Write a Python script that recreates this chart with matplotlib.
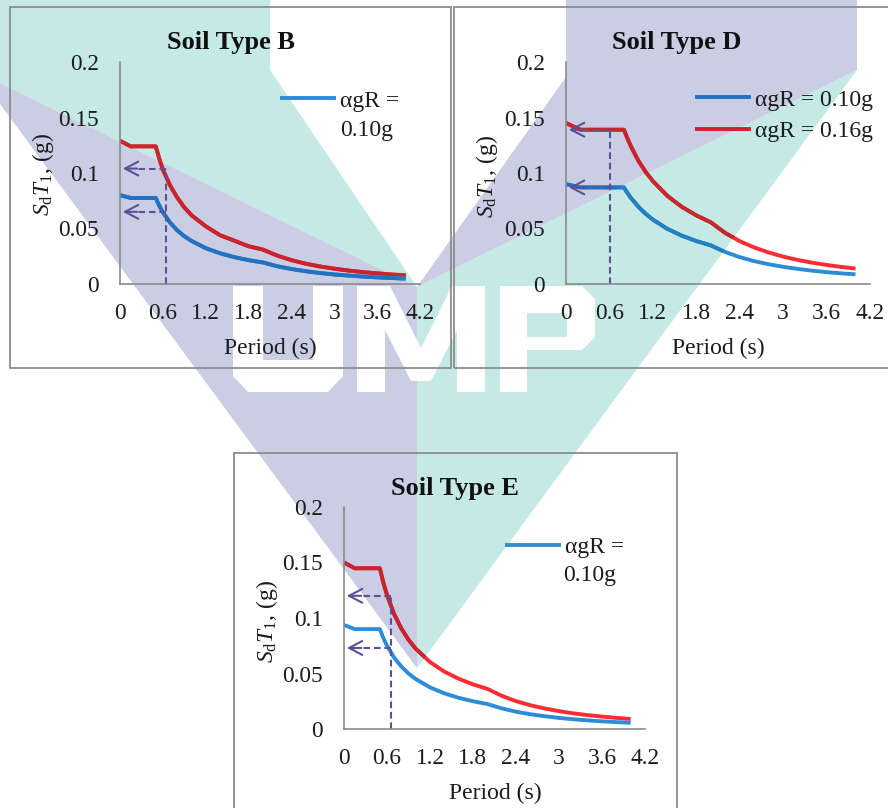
import matplotlib.pyplot as plt
import numpy as np
from matplotlib.path import Path
from matplotlib.patches import PathPatch, Rectangle
from matplotlib.lines import Line2D

W, H = 888, 808

plt.rcParams['font.family'] = ['Liberation Serif', 'DejaVu Serif']
plt.rcParams['mathtext.fontset'] = 'custom'
plt.rcParams['mathtext.rm'] = 'Liberation Serif'
plt.rcParams['mathtext.it'] = 'Liberation Serif:italic'
plt.rcParams['font.size'] = 16.5

# ---- data (period in s, Sd in g) ----
period_be = [0, 0.15, 0.5, 0.55, 0.6, 0.7, 0.8, 0.9, 1.0, 1.2, 1.4, 1.6, 1.8, 2.0,
             2.2, 2.4, 2.6, 2.8, 3.0, 3.2, 3.4, 3.6, 3.8, 4.0]
period_d = [0, 0.2, 0.8, 0.85, 0.9, 1.0, 1.1, 1.2, 1.4, 1.6, 1.8, 2.0,
            2.2, 2.4, 2.6, 2.8, 3.0, 3.2, 3.4, 3.6, 3.8, 4.0]

sd_b_010 = [0.080, 0.0775, 0.0775, 0.0705, 0.0646, 0.0554, 0.0484, 0.0431, 0.0388, 0.0323,
            0.0277, 0.0242, 0.0215, 0.0194, 0.0160, 0.0135, 0.0115, 0.0099, 0.0086, 0.0076,
            0.0067, 0.0060, 0.0054, 0.0048]
sd_b_016 = [0.129, 0.124, 0.124, 0.113, 0.103, 0.089, 0.078, 0.069, 0.062, 0.052,
            0.044, 0.039, 0.034, 0.031, 0.0256, 0.0215, 0.0183, 0.0158, 0.0138, 0.0121,
            0.0107, 0.0096, 0.0086, 0.0078]
sd_d_010 = [0.090, 0.087, 0.087, 0.0819, 0.0773, 0.0696, 0.0633, 0.058, 0.0497, 0.0435,
            0.0387, 0.0348, 0.0288, 0.0242, 0.0206, 0.0178, 0.0155, 0.0136, 0.012, 0.0107,
            0.0096, 0.0087]
sd_d_016 = [0.145, 0.139, 0.139, 0.131, 0.1236, 0.111, 0.101, 0.0927, 0.0794, 0.0695,
            0.0618, 0.0556, 0.046, 0.0386, 0.0329, 0.0284, 0.0247, 0.0217, 0.0192, 0.0172,
            0.0154, 0.0139]
sd_e_010 = [0.0937, 0.090, 0.090, 0.0818, 0.075, 0.0643, 0.0563, 0.050, 0.045, 0.0375,
            0.0321, 0.0281, 0.025, 0.0225, 0.0186, 0.0156, 0.0133, 0.0115, 0.010, 0.0088,
            0.0078, 0.0069, 0.0062, 0.0056]
sd_e_016 = [0.150, 0.1448, 0.1448, 0.1316, 0.1207, 0.1034, 0.0905, 0.0804, 0.0724, 0.0603,
            0.0517, 0.0453, 0.0402, 0.0362, 0.0299, 0.0251, 0.0214, 0.0185, 0.0161, 0.0141,
            0.0125, 0.0112, 0.010, 0.009]

# fundamental period and the Sd values read at it (dashed arrows)
t1_b, arrows_b = 0.65, [0.104, 0.065]
t1_d, arrows_d = 0.61, [0.139, 0.087]
t1_e, arrows_e = 0.655, [0.120, 0.073]

xticks = [0, 0.6, 1.2, 1.8, 2.4, 3, 3.6, 4.2]
xticklabels = ['0', '0.6', '1.2', '1.8', '2.4', '3', '3.6', '4.2']
yticks = [0, 0.05, 0.1, 0.15, 0.2]
yticklabels = ['0', '0.05', '0.1', '0.15', '0.2']

# ---- colours ----
blue = np.array([45, 140, 215]) / 255
red = np.array([252, 45, 50]) / 255
lav = np.array([201, 206, 228]) / 255
teal = np.array([197, 233, 229]) / 255
arrow_c = '#5b5196'
text_c = '#1c1c1c'


def fig_path(polys):
    verts, codes = [], []
    for pts in polys:
        verts += [(x / W, 1 - y / H) for x, y in pts] + [(0, 0)]
        codes += [Path.MOVETO] + [Path.LINETO] * (len(pts) - 1) + [Path.CLOSEPOLY]
    return Path(verts, codes)


fig = plt.figure(figsize=(W / 100, H / 100), dpi=100, facecolor='white')

# background watermark (UMP logo), pixel coordinates
teal_path = fig_path([[(0, 0), (270, 0), (270, 70), (417, 287), (0, 83)],
                      [(417, 287), (857, 70), (417, 668)]])
lav_path = fig_path([[(0, 83), (417, 287), (417, 668), (0, 104)],
                     [(566, 0), (857, 0), (857, 70), (417, 287), (566, 77)]])
letters_path = fig_path([
    [(233, 286), (263, 286), (263, 360), (313, 360), (313, 286), (343, 286),
     (343, 376), (328, 392), (248, 392), (233, 376)],
    [(357, 392), (357, 286), (390, 286), (421, 348), (452, 286), (485, 286),
     (485, 392), (457, 392), (457, 330), (431, 381), (411, 381), (385, 330), (385, 392)],
    [(500, 286), (527, 286), (527, 392), (500, 392)],
    [(527, 286), (582, 286), (595, 299), (595, 337), (582, 350), (527, 350),
     (527, 337), (567, 337), (567, 313), (527, 313)],
])
fig.patches.append(PathPatch(teal_path, transform=fig.transFigure, fc=teal, ec='none', zorder=-3))
fig.patches.append(PathPatch(lav_path, transform=fig.transFigure, fc=lav, ec='none', zorder=-3))
fig.patches.append(PathPatch(letters_path, transform=fig.transFigure, fc='white', ec='none', zorder=-2))

# chart-area borders
for x0, y0, x1, y1 in [(10, 7, 451, 368), (454, 7, 900, 368), (234, 453, 677, 820)]:
    fig.patches.append(Rectangle((x0 / W, 1 - y1 / H), (x1 - x0) / W, (y1 - y0) / H,
                                 transform=fig.transFigure, fill=False,
                                 ec='#8c8c8c', lw=1.3, zorder=-1))


def draw_panel(rect, period, s010, s016, t1, arrows):
    x0, ytop, w = rect
    ax = fig.add_axes([x0 / W, 1 - (ytop + 222) / H, w / W, 222 / H])
    ax.patch.set_visible(False)
    for c, s in [(red, s016), (blue, s010)]:
        ax.plot(period, s, color=c, lw=2.8, solid_capstyle='butt')
        # darker where the watermark lies under the line (multiply look)
        for wm, p in [(lav, lav_path), (teal, teal_path)]:
            ln, = ax.plot(period, s, color=c * wm, lw=2.8, solid_capstyle='butt')
            ln.set_clip_path(p, fig.transFigure)
    tip = 0.04
    ax.plot([t1, t1], [0, max(arrows)], color=arrow_c, lw=1.5, dashes=(3.2, 1.8))
    for lvl in arrows:
        ax.plot([t1, tip + 0.2], [lvl, lvl], color=arrow_c, lw=1.5, dashes=(3.2, 1.8))
        ax.annotate('', xy=(tip, lvl), xytext=(tip + 0.2, lvl),
                    arrowprops=dict(arrowstyle='->,head_length=0.95,head_width=0.5',
                                    color=arrow_c, lw=1.5, shrinkA=0, shrinkB=0,
                                    mutation_scale=10))
    ax.set_xlim(0, 4.2)
    ax.set_ylim(0, 0.2)
    ax.set_xticks(xticks, xticklabels)
    ax.set_yticks(yticks, yticklabels)
    ax.tick_params(axis='x', length=0, pad=13.5, colors=text_c, labelsize=16.8)
    ax.tick_params(axis='y', length=0, pad=15, colors=text_c, labelsize=16.8)
    for side in ['top', 'right']:
        ax.spines[side].set_visible(False)
    for side in ['left', 'bottom']:
        ax.spines[side].set_color('#8a8a8a')
        ax.spines[side].set_linewidth(1.2)
    return ax


ax_b = draw_panel((120, 62, 300), period_be, sd_b_010, sd_b_016, t1_b, arrows_b)
ax_d = draw_panel((566, 62, 304), period_d, sd_d_010, sd_d_016, t1_d, arrows_d)
ax_e = draw_panel((344, 507, 301), period_be, sd_e_010, sd_e_016, t1_e, arrows_e)

# legends
leg_kw = dict(frameon=False, loc='upper left', handlelength=2.2, handletextpad=0.25,
              borderpad=0, borderaxespad=0, labelspacing=0.42, fontsize=17,
              labelcolor=text_c)
ax_b.legend([Line2D([], [], color=blue, lw=2.8)], ['αgR ='],
            bbox_to_anchor=(0.54, 0.873), **leg_kw)
ax_b.text(0.733, 0.69, '0.10g', transform=ax_b.transAxes, fontsize=17,
          color=text_c, va='center', ha='left')
ax_e.legend([Line2D([], [], color=blue, lw=2.8)], ['αgR ='],
            bbox_to_anchor=(0.542, 0.868), **leg_kw)
ax_e.text(0.728, 0.69, '0.10g', transform=ax_e.transAxes, fontsize=17,
          color=text_c, va='center', ha='left')
ax_d.legend([Line2D([], [], color=blue * lav, lw=2.8), Line2D([], [], color=red * lav, lw=2.8)],
            ['αgR = 0.10g', 'αgR = 0.16g'], bbox_to_anchor=(0.431, 0.878), **leg_kw)

# titles, axis labels
ylab = r'$S_\mathrm{d}T_1$, (g)'
for tx, ty, title, lx, ly, yx, yy in [(231, 43, 'Soil Type B', 270, 348, 43, 175),
                                       (677, 43, 'Soil Type D', 718, 348, 487, 177),
                                       (455, 489, 'Soil Type E', 495, 793, 267, 622)]:
    fig.text(tx / W, 1 - ty / H, title, fontsize=19, fontweight='bold',
             color='#111111', ha='center', va='center')
    fig.text(lx / W, 1 - ly / H, 'Period (s)', fontsize=17, color=text_c,
             ha='center', va='center')
    fig.text(yx / W, 1 - yy / H, ylab, fontsize=17, color=text_c, rotation=90,
             ha='center', va='center')

fig.savefig('out.png', dpi=100, facecolor='white')
